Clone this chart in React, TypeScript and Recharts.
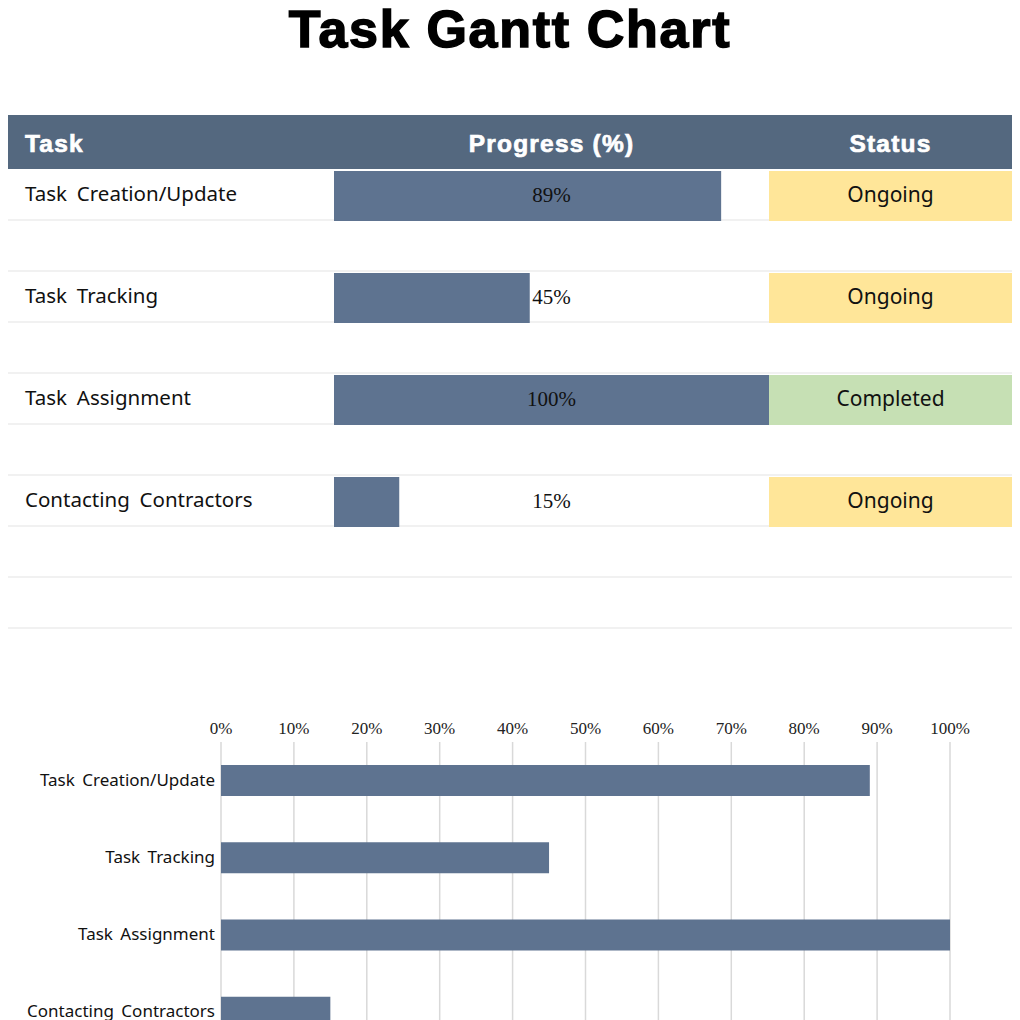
import { Bar, BarChart, CartesianGrid, Cell, LabelList, XAxis, YAxis } from 'recharts'

const tasks = ['Task Creation/Update', 'Task Tracking', 'Task Assignment', 'Contacting Contractors']
const progress = [89, 45, 100, 15]
const statuses = ['Ongoing', 'Ongoing', 'Completed', 'Ongoing']
const percentTicks = [0, 10, 20, 30, 40, 50, 60, 70, 80, 90, 100]

const BAR = '#5e7390'
const HEADER = '#54687f'
const STATUS_FILL: Record<string, string> = { Ongoing: '#ffe699', Completed: '#c6e0b4' }
const SANS = '"Noto Sans", "Open Sans", sans-serif'
const SERIF = '"Liberation Serif", "DejaVu Serif", serif'
// status column width expressed in progress units (column is 243px vs 435px for 100%)
const STATUS_SPAN = (100 * 243) / 435

type Row = { key: string; task: string; done: number; rest: number; span: number; status: string }

// table rows: each task followed by a blank spacer row, plus one trailing blank
const tableRows: Row[] = []
tasks.forEach((task, i) => {
  tableRows.push({
    key: `t${i}`,
    task,
    done: progress[i],
    rest: 100 - progress[i],
    span: STATUS_SPAN,
    status: statuses[i],
  })
  tableRows.push({ key: `b${i}`, task: '', done: 0, rest: 0, span: 0, status: '' })
})
tableRows.push({ key: 'b4', task: '', done: 0, rest: 0, span: 0, status: '' })

const chartRows = tasks.map((task, i) => ({ task, progress: progress[i] }))

function TaskNameTick(props: any) {
  const { y, payload } = props
  const row = tableRows.find((r) => r.key === payload.value)
  if (!row || !row.task) return null
  return (
    <text
      x={17}
      y={y}
      dy={5}
      textAnchor="start"
      fill="#111"
      fontSize={20.5}
      fontFamily={SANS}
      style={{ wordSpacing: '4.5px' }}
    >
      {row.task}
    </text>
  )
}

// percent label centred in the whole progress column, derived from the bar's own scale
function PercentLabel(props: any) {
  const vb = props.viewBox ?? props
  const { x, y, width, height } = vb
  const value = Number(props.value)
  if (!value) return null
  const center = x + (width * 50) / value
  return (
    <text
      x={center}
      y={y + height / 2}
      dy={6}
      textAnchor="middle"
      fill="#111"
      fontSize={21}
      fontFamily={SERIF}
    >
      {`${value}%`}
    </text>
  )
}

function StatusLabel(props: any) {
  const vb = props.viewBox ?? props
  const { x, y, width, height } = vb
  if (!props.value) return null
  return (
    <text
      x={x + width / 2}
      y={y + height / 2}
      dy={6}
      textAnchor="middle"
      fill="#111"
      fontSize={21}
      fontFamily={SANS}
    >
      {props.value}
    </text>
  )
}

function CategoryTick(props: any) {
  const { x, y, payload } = props
  return (
    <text
      x={x}
      y={y}
      dy={5}
      textAnchor="end"
      fill="#111"
      fontSize={17}
      fontFamily={SANS}
      style={{ wordSpacing: '3px' }}
    >
      {payload.value}
    </text>
  )
}

const headerText: React.CSSProperties = {
  position: 'absolute',
  top: 0,
  height: 54,
  lineHeight: '57px',
  color: '#fff',
  fontFamily: '"Liberation Sans", Arial, sans-serif',
  fontWeight: 700,
  fontSize: 24.5,
  letterSpacing: '1.2px',
  WebkitTextStroke: '0.7px #fff',
}

export default function App() {
  return (
    <div
      style={{
        position: 'absolute',
        left: 0,
        top: 0,
        width: 1020,
        height: 1020,
        overflow: 'hidden',
        background: '#fff',
      }}
    >
      <div
        style={{
          position: 'absolute',
          top: 2,
          left: 0,
          width: 1020,
          textAlign: 'center',
          fontFamily: '"Liberation Sans", Arial, sans-serif',
          fontWeight: 700,
          fontSize: 52,
          lineHeight: '54px',
          letterSpacing: '1.7px',
          WebkitTextStroke: '1.5px #000',
          color: '#000',
        }}
      >
        Task Gantt Chart
      </div>

      <div
        style={{
          position: 'absolute',
          top: 115,
          left: 8,
          width: 1004,
          height: 54,
          background: HEADER,
        }}
      >
        <span style={{ ...headerText, left: 17 }}>Task</span>
        <span style={{ ...headerText, left: 326, width: 435, textAlign: 'center' }}>Progress (%)</span>
        <span style={{ ...headerText, left: 761, width: 243, textAlign: 'center' }}>Status</span>
      </div>

      <div
        style={{
          position: 'absolute',
          top: 170,
          left: 8,
          width: 1004,
          height: 459,
          background:
            'repeating-linear-gradient(to bottom, transparent 0px, transparent 49px, #f1f1f1 49px, #f1f1f1 51px)',
        }}
      >
        <BarChart
          width={1004}
          height={459}
          data={tableRows}
          layout="vertical"
          margin={{ top: 0, right: 0, bottom: 0, left: 0 }}
          barSize={50}
        >
          <XAxis type="number" hide domain={[0, 100 + STATUS_SPAN]} />
          <YAxis
            type="category"
            dataKey="key"
            width={326}
            axisLine={false}
            tickLine={false}
            interval={0}
            tick={<TaskNameTick />}
          />
          <Bar dataKey="done" stackId="row" fill={BAR} isAnimationActive={false}>
            <LabelList dataKey="done" content={<PercentLabel />} />
          </Bar>
          <Bar dataKey="rest" stackId="row" fill="transparent" isAnimationActive={false} />
          <Bar dataKey="span" stackId="row" isAnimationActive={false}>
            {tableRows.map((r) => (
              <Cell key={r.key} fill={STATUS_FILL[r.status] ?? 'transparent'} />
            ))}
            <LabelList dataKey="status" content={<StatusLabel />} />
          </Bar>
        </BarChart>
      </div>

      <div style={{ position: 'absolute', top: 700, left: 8 }}>
        <BarChart
          width={1004}
          height={351}
          data={chartRows}
          layout="vertical"
          margin={{ top: 12, right: 62, bottom: 0, left: 0 }}
          barSize={31}
        >
          <CartesianGrid horizontal={false} stroke="#d9d9d9" strokeWidth={1.5} />
          <XAxis
            type="number"
            orientation="top"
            domain={[0, 100]}
            ticks={percentTicks}
            tickFormatter={(v) => `${v}%`}
            axisLine={false}
            tickLine={false}
            height={30}
            interval={0}
            tick={{ fill: '#222', fontSize: 17, fontFamily: SERIF }}
          />
          <YAxis
            type="category"
            dataKey="task"
            width={213}
            axisLine={false}
            tickLine={false}
            tickSize={0}
            tickMargin={6}
            interval={0}
            tick={<CategoryTick />}
          />
          <Bar dataKey="progress" fill={BAR} isAnimationActive={false} />
        </BarChart>
      </div>
    </div>
  )
}
